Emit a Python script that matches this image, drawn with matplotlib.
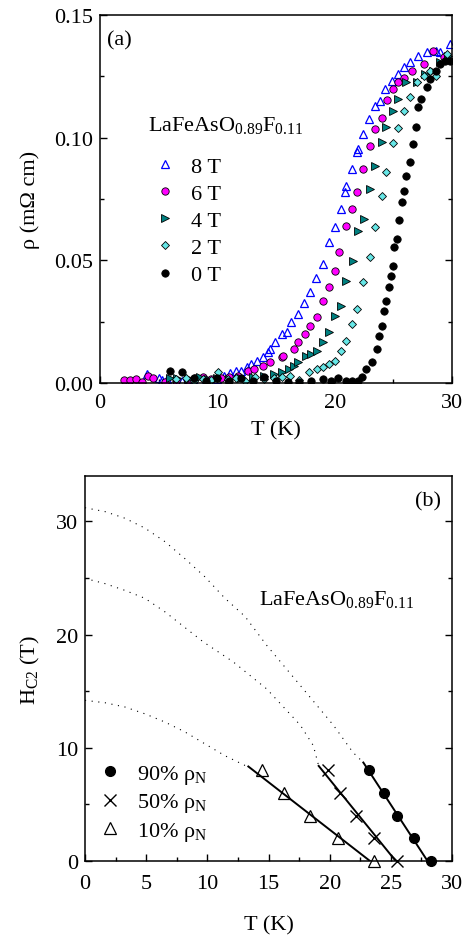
import matplotlib
matplotlib.use("Agg")
import matplotlib.pyplot as plt
from matplotlib.ticker import MultipleLocator, FormatStrFormatter

plt.rcParams["font.family"] = ["Liberation Serif", "DejaVu Serif"]
plt.rcParams["mathtext.fontset"] = "custom"
plt.rcParams["mathtext.rm"] = "Liberation Serif"
plt.rcParams["mathtext.it"] = "Liberation Serif:italic"
plt.rcParams["font.size"] = 16

# ---- panel (a): resistivity vs T at several fields ----
T8 = [4.0, 5.0, 5.3, 5.7, 7.0, 8.0, 9.0, 10.0, 10.6, 11.1, 11.6, 12.0, 12.5, 12.9, 13.4,
      13.9, 14.3, 14.5, 14.9, 15.5, 15.9, 16.3, 16.9, 17.4, 17.9, 18.4, 19.0, 19.5, 20.0,
      20.5, 20.9, 21.0, 21.5, 21.9, 22.0, 22.4, 22.9, 23.4, 23.9, 24.3, 24.9, 25.4, 25.9,
      26.4, 27.1, 27.9, 28.6, 29.0, 29.8]
rho8 = [0.0037, 0.0022, 0.0013, 0.0016, 0.001, 0.001, 0.0012, 0.0015, 0.003, 0.004,
        0.0047, 0.005, 0.0064, 0.0077, 0.0091, 0.0105, 0.0125, 0.0139, 0.0166, 0.020,
        0.0207, 0.0247, 0.0281, 0.0326, 0.037, 0.043, 0.0485, 0.0573, 0.0635, 0.071,
        0.0777, 0.0804, 0.0872, 0.094, 0.0954, 0.1015, 0.1076, 0.113, 0.115, 0.120,
        0.1232, 0.126, 0.1287, 0.1307, 0.1334, 0.1348, 0.1355, 0.1348, 0.138]

T6 = [2.05, 2.55, 3.05, 3.55, 4.05, 4.55, 5.5, 6.5, 7.5, 8.1, 8.8, 9.5, 10.3, 11.0, 11.8,
      12.6, 13.1, 13.9, 14.5, 15.5, 15.6, 16.5, 16.9, 17.5, 17.9, 18.5, 19.0, 19.5, 20.0,
      20.4, 21.0, 21.5, 21.9, 22.4, 23.0, 23.4, 24.0, 24.5, 25.0, 25.4, 25.9, 26.6, 27.6,
      28.4, 29.3]
rho6 = [0.0012, 0.0012, 0.0016, 0.0004, 0.003, 0.002, 0.0006, 0.001, 0.0012, 0.0022,
        0.0025, 0.0015, 0.002, 0.0025, 0.003, 0.005, 0.0057, 0.007, 0.0084, 0.0105,
        0.011, 0.0139, 0.0166, 0.020, 0.0234, 0.0268, 0.0336, 0.0393, 0.0458, 0.0535,
        0.0641, 0.071, 0.0777, 0.0872, 0.0967, 0.1035, 0.1079, 0.1155, 0.120, 0.1226,
        0.1243, 0.1273, 0.130, 0.1355, 0.1327]

T4 = [6.0, 6.6, 7.5, 8.5, 9.2, 10.0, 11.0, 12.0, 13.0, 14.0, 14.8, 15.5, 16.1, 16.5, 16.9,
      17.6, 18.0, 18.5, 19.0, 19.5, 20.0, 20.5, 21.0, 21.6, 22.0, 22.5, 23.0, 23.4, 24.0,
      24.4, 25.0, 25.4, 26.1, 27.0, 27.7, 28.4, 29.0, 29.7]
rho4 = [0.002, 0.0021, 0.0018, 0.0024, 0.0015, 0.002, 0.0015, 0.002, 0.0025, 0.003,
        0.0035, 0.0045, 0.0057, 0.007, 0.0084, 0.0111, 0.012, 0.0132, 0.0166, 0.0207,
        0.0274, 0.0315, 0.0417, 0.0498, 0.0621, 0.0669, 0.0791, 0.0886, 0.0981, 0.1042,
        0.111, 0.1158, 0.1226, 0.1226, 0.126, 0.1273, 0.1307, 0.1334]

T2 = [6.5, 7.3, 8.0, 8.8, 9.5, 10.1, 10.9, 11.6, 12.4, 13.2, 14.0, 14.8, 15.5, 16.2, 17.0,
      17.8, 18.5, 19.0, 19.5, 20.0, 20.5, 21.0, 21.5, 21.9, 22.4, 23.0, 23.4, 24.0, 24.4,
      25.0, 25.4, 25.9, 26.4, 27.0, 27.6, 28.1, 28.6, 29.6]
rho2 = [0.0015, 0.0022, 0.001, 0.0018, 0.0012, 0.0043, 0.0015, 0.002, 0.001, 0.0025,
        0.0015, 0.002, 0.0025, 0.003, 0.0012, 0.0043, 0.0057, 0.0065, 0.0077, 0.0091,
        0.0132, 0.0172, 0.024, 0.0302, 0.041, 0.0512, 0.0635, 0.0764, 0.0859, 0.0978,
        0.1038, 0.111, 0.1165, 0.1226, 0.1253, 0.1273, 0.1253, 0.1341]

T0 = [6.0, 7.0, 8.0, 9.0, 10.0, 11.0, 12.0, 13.0, 14.0, 15.0, 16.0, 17.0, 18.0, 19.0, 19.7,
      20.3, 21.0, 21.5, 22.0, 22.3, 22.7, 23.2, 23.6, 23.8, 24.0, 24.2, 24.4, 24.6, 24.8,
      25.0, 25.1, 25.3, 25.5, 25.7, 25.9, 26.1, 26.4, 26.7, 26.9, 27.1, 27.4, 27.9, 28.1,
      28.6, 29.0, 29.4, 29.8]
rho0 = [0.0047, 0.0043, 0.002, 0.001, 0.002, 0.001, 0.002, 0.001, 0.0025, 0.001,
        0.0005, 0.0005, 0.001, 0.0015, 0.001, 0.002, 0.0008, 0.0008, 0.001, 0.0023,
        0.0057, 0.0084, 0.0139, 0.0193, 0.0234, 0.0295, 0.0336, 0.039, 0.0437, 0.0476,
        0.0553, 0.0587, 0.0666, 0.0739, 0.0784, 0.0845, 0.090, 0.0974, 0.1042, 0.1124,
        0.1158, 0.1205, 0.1239, 0.1273, 0.130, 0.1314, 0.1314]

# ---- panel (b): Hc2 vs T ----
H_pts = [8, 6, 4, 2, 0]
T90 = [23.25, 24.45, 25.5, 26.9, 28.3]
T50 = [19.9, 20.85, 22.15, 23.6, 25.5]
T10 = [14.45, 16.3, 18.4, 20.65, 23.65]

fit90_T, fit90_H = [22.75, 28.0], [8.7, 0.0]
fit50_T, fit50_H = [19.1, 25.4], [8.4, 0.0]
fit10_T, fit10_H = [13.35, 23.3], [8.35, 0.0]

dot90_T = [0, 1.63, 3.27, 4.9, 6.54, 8.17, 9.8, 11.44, 13.08, 14.85, 17.6, 20.3, 21.9, 22.75]
dot90_H = [31.2, 30.86, 30.27, 29.4, 28.2, 26.7, 25.1, 23.2, 21.6, 19.05, 15.5, 12.0, 9.6, 8.7]
dot50_T = [0, 1.63, 3.27, 4.9, 6.54, 9.67, 12.1, 14.85, 17.6, 18.66, 19.1]
dot50_H = [24.96, 24.5, 23.9, 23.2, 22.0, 19.35, 17.6, 15.2, 12.0, 10.2, 8.4]
dot10_T = [0, 1.63, 3.27, 4.9, 6.54, 8.17, 9.8, 11.44, 13.35]
dot10_H = [14.19, 13.98, 13.6, 13.0, 12.27, 11.4, 10.35, 9.3, 8.3]

compound = "LaFeAsO$_{0.89}$F$_{0.11}$"

fig = plt.figure(figsize=(4.64, 9.37), dpi=100)
axa = fig.add_axes([0.2155, 0.5902, 0.7586, 0.3927])
axb = fig.add_axes([0.1832, 0.0800, 0.7910, 0.4109])

for ax in (axa, axb):
    ax.tick_params(which="both", direction="in", right=True, top=False, width=1.0)
    ax.tick_params(which="major", length=5)
    ax.tick_params(which="minor", length=3)
    for s in ax.spines.values():
        s.set_linewidth(1.1)

# (a)
axa.plot(T8, rho8, ls="none", marker="^", ms=5.5, mfc="none", mec="#0000ff", mew=0.9, label="8 T")
axa.plot(T6, rho6, ls="none", marker="o", ms=5.3, mfc="#ff00ff", mec="black", mew=0.6, label="6 T")
axa.plot(T4, rho4, ls="none", marker=">", ms=6, mfc="#008080", mec="black", mew=0.6, label="4 T")
axa.plot(T2, rho2, ls="none", marker="D", ms=4.5, mfc="#66e6e6", mec="black", mew=0.6, label="2 T")
axa.plot(T0, rho0, ls="none", marker="o", ms=5.3, mfc="black", mec="black", mew=0.6, label="0 T")
axa.set_xlim(0, 30)
axa.set_ylim(0, 0.15)
axa.xaxis.set_major_locator(MultipleLocator(10))
axa.xaxis.set_minor_locator(MultipleLocator(5))
axa.yaxis.set_major_locator(MultipleLocator(0.05))
axa.yaxis.set_minor_locator(MultipleLocator(0.025))
axa.yaxis.set_major_formatter(FormatStrFormatter("%.2f"))
axa.tick_params(axis="x", pad=7)
axa.tick_params(axis="y", pad=5)
axa.set_xlabel("T (K)", labelpad=6)
axa.set_ylabel("ρ (mΩ cm)", labelpad=10)
axa.text(0.02, 0.96, "(a)", transform=axa.transAxes, ha="left", va="top")
axa.text(0.136, 0.688, compound, transform=axa.transAxes, ha="left", va="baseline")
axa.legend(loc="upper left", bbox_to_anchor=(0.145, 0.617),
           frameon=False, handlelength=1.3, handletextpad=0.5, labelspacing=0.3,
           borderpad=0, borderaxespad=0)

# (b)
axb.plot(dot90_T, dot90_H, color="black", lw=0.8, ls=(0, (1, 5)))
axb.plot(dot50_T, dot50_H, color="black", lw=0.8, ls=(0, (1, 5)))
axb.plot(dot10_T, dot10_H, color="black", lw=0.8, ls=(0, (1, 5)))
axb.plot(fit90_T, fit90_H, color="black", lw=1.4)
axb.plot(fit50_T, fit50_H, color="black", lw=1.4)
axb.plot(fit10_T, fit10_H, color="black", lw=1.4)
axb.plot(T90, H_pts, ls="none", marker="o", ms=7, mfc="black", mec="black",
         label="90% ρ$_{\\rm N}$", clip_on=False)
axb.plot(T50, H_pts, ls="none", marker="x", ms=8, mec="black", mew=1.0,
         label="50% ρ$_{\\rm N}$", clip_on=False)
axb.plot(T10, H_pts, ls="none", marker="^", ms=8, mfc="none", mec="black", mew=0.9,
         label="10% ρ$_{\\rm N}$", clip_on=False)
axb.set_xlim(0, 30)
axb.set_ylim(0, 34)
axb.xaxis.set_major_locator(MultipleLocator(5))
axb.xaxis.set_minor_locator(MultipleLocator(2.5))
axb.yaxis.set_major_locator(MultipleLocator(10))
axb.yaxis.set_minor_locator(MultipleLocator(5))
axb.tick_params(axis="x", pad=9)
axb.tick_params(axis="y", pad=5)
axb.set_xlabel("T (K)", labelpad=16)
axb.set_ylabel("H$_{\\rm C2}$ (T)", labelpad=10)
axb.text(0.97, 0.96, "(b)", transform=axb.transAxes, ha="right", va="top")
axb.text(0.475, 0.6675, compound, transform=axb.transAxes, ha="left", va="baseline")
axb.legend(loc="lower left", bbox_to_anchor=(0.03, 0.047), frameon=False,
           handlelength=1.3, handletextpad=0.55, labelspacing=0.25,
           borderpad=0, borderaxespad=0)

fig.savefig("out.png", dpi=100)
